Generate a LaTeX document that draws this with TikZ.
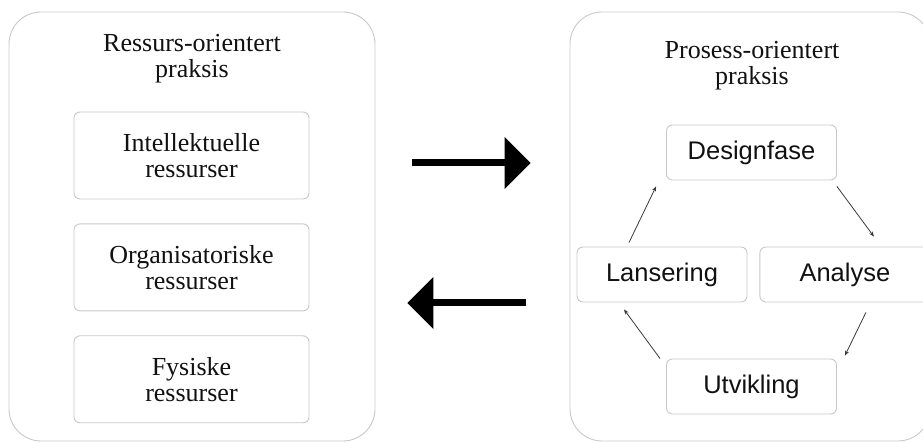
\documentclass[tikz,border=0pt]{standalone}
\usepackage{fontspec}
\setmainfont{Liberation Serif}
\setsansfont{Liberation Sans}
\usepackage{tikz}
\usetikzlibrary{arrows.meta,positioning}
\definecolor{frame}{HTML}{C8C8C8}
\definecolor{ink}{HTML}{111111}
\definecolor{cm}{HTML}{3A3A3A}
\tikzset{
  panel/.style={draw=frame,rounded corners=32pt,line width=0.9pt,minimum width=366pt,minimum height=429pt},
  rbox/.style={draw=frame,rounded corners=6pt,line width=0.9pt,fill=white,align=center,text=ink,font=\fontsize{26}{26}\selectfont,minimum width=235pt,minimum height=87pt},
  pbox/.style={draw=frame,rounded corners=6pt,line width=0.9pt,fill=white,align=center,text=ink,font=\sffamily\fontsize{25.5}{26}\selectfont,minimum width=170pt,minimum height=55pt},
  ttl/.style={align=center,text=ink,font=\fontsize{26}{26}\selectfont},
  arr/.style={-{Stealth[length=5pt,width=4pt]},line width=0.8pt,color=cm},
  bigarr/.style={-{Triangle[length=26pt,width=52pt,line width=0pt]},line width=7pt,color=black}}

\begin{document}
\begin{tikzpicture}[x=1pt,y=1pt,node distance=24pt and 12pt]
\useasboundingbox (0,0) rectangle (923,443);
\node[panel] (res) at (192,216.5) {};
\node[panel,minimum width=360pt] (pro) at (750,216.5) {};
\node[ttl] (rest) at (192,384) {Ressurs-orientert\\praksis};
\node[ttl] (prot) at (752,377) {Prosess-orientert\\praksis};
\node[rbox] (int) at (191.5,287.5) {Intellektuelle\\ressurser};
\node[rbox,below=of int] (org) {Organisatoriske\\ressurser};
\node[rbox,below=of org] (fys) {Fysiske\\ressurser};
\node[pbox] (des) at (751.5,290.5) {Designfase};
\node[pbox] (lans) at (662,168.5) {Lansering};
\node[pbox,right=of lans] (ana) {Analyse};
\node[pbox] (utv) at (751.5,56.5) {Utvikling};
\draw[arr] ([shift={(-33,4)}]lans.north) -- ([shift={(-10,-6)}]des.south west);
\draw[arr] ([shift={(0,-6)}]des.south east) -- ([shift={(29,10)}]ana.north);
\draw[arr] ([shift={(21,-10)}]ana.south) -- ([shift={(8,3)}]utv.north east);
\draw[arr] ([shift={(-6,0)}]utv.north west) -- ([shift={(-38,-7)}]lans.south);
\draw[bigarr,shorten <=37pt,shorten >=39pt] ([yshift=63.5pt]res.east) -- ([yshift=63.5pt]pro.west);
\draw[bigarr,shorten <=44pt,shorten >=32pt] ([yshift=-76.5pt]pro.west) -- ([yshift=-76.5pt]res.east);
\end{tikzpicture}
\end{document}
